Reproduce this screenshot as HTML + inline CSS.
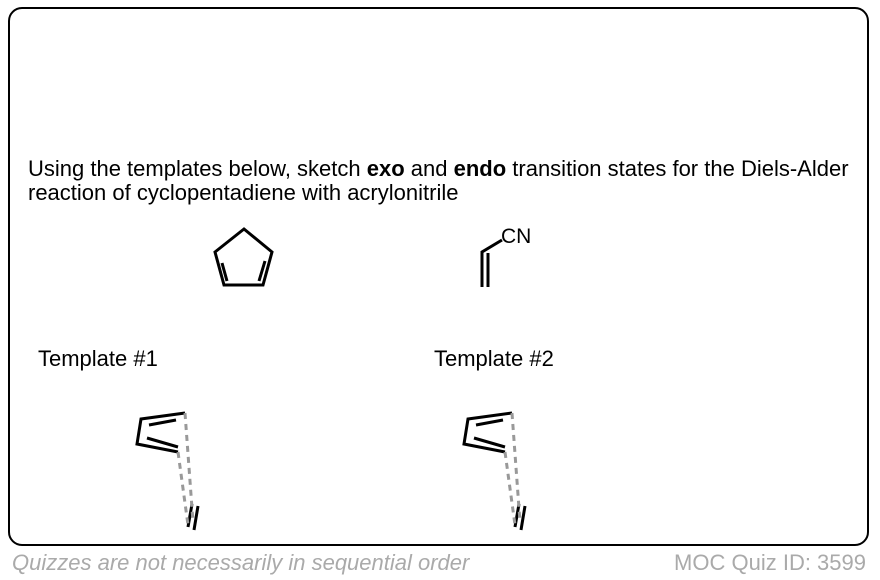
<!DOCTYPE html>
<html><head><style>
body{margin:0;width:880px;height:580px;background:#fff;font-family:"Liberation Sans",sans-serif;position:relative;overflow:hidden}
.box{position:absolute;left:8px;top:7px;width:861px;height:539px;border:2px solid #000;border-radius:14px;box-sizing:border-box}
.t{position:absolute;font-size:22px;color:#000;white-space:nowrap}
.f{position:absolute;top:550px;font-size:22px;color:#aaa}
</style></head><body>
<div class="box"></div>
<div class="t" style="left:28px;top:157px;line-height:24px">Using the templates below, sketch <b>exo</b> and <b>endo</b> transition states for the Diels-Alder<br>reaction of cyclopentadiene with acrylonitrile</div>
<div class="t" style="left:38px;top:346px">Template #1</div>
<div class="t" style="left:434px;top:346px">Template #2</div>
<div class="f" style="left:12px;font-style:italic">Quizzes are not necessarily in sequential order</div>
<div class="f" style="right:14px">MOC Quiz ID: 3599</div>
<svg width="880" height="580" style="position:absolute;left:0;top:0">
<g stroke="#000" stroke-width="3" fill="none" stroke-linejoin="miter">
<polygon points="244,229 272,252 263,285 224,285 215,252"/>
<line x1="222" y1="263" x2="227" y2="281"/>
<line x1="265" y1="261" x2="259" y2="281"/>
<polyline points="482,287 482,252 502,240"/>
<line x1="488" y1="253" x2="488" y2="287"/>
<g id="tp">
<polyline points="185,413 141,419 137,444 178,452"/>
<line x1="149" y1="425" x2="176" y2="420"/>
<line x1="147" y1="438" x2="178" y2="447"/>
<line x1="188" y1="527" x2="192" y2="504"/>
<line x1="194" y1="530" x2="198" y2="506"/>
<g stroke="#999" stroke-dasharray="6,5">
<line x1="185" y1="413" x2="193" y2="522"/>
<line x1="178" y1="452" x2="188" y2="525"/>
</g>
</g>
<use href="#tp" transform="translate(327,0)"/>
</g>
<text x="501" y="243" font-family="Liberation Sans" font-size="21">CN</text>
</svg>
</body></html>
